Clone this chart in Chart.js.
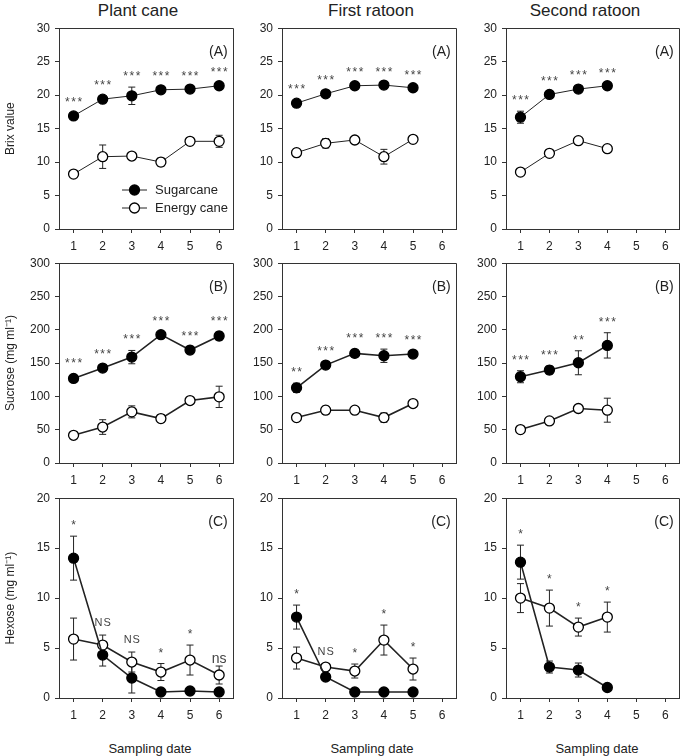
<!DOCTYPE html>
<html>
<head>
<meta charset="utf-8">
<script src="https://cdn.jsdelivr.net/npm/chart.js@4.4.0/dist/chart.umd.min.js"></script>
<style>
  body { margin: 0; background: #fff; width: 685px; height: 756px; position: relative; overflow: hidden;
         font-family: "Liberation Sans", Arial, sans-serif; color: #222; }
  canvas { position: absolute; }
  .lbl { position: absolute; transform: translate(-50%, -50%); white-space: nowrap; }
  .coltitle { font-size: 17px; }
  .xtitle { font-size: 13px; }
</style>
</head>
<body>
<div class="lbl coltitle" style="left:138px; top:11px">Plant cane</div>
<div class="lbl coltitle" style="left:371px; top:11px">First ratoon</div>
<div class="lbl coltitle" style="left:585px; top:11px">Second ratoon</div>
<div class="lbl xtitle" style="left:150px; top:748px">Sampling date</div>
<div class="lbl xtitle" style="left:372px; top:748px">Sampling date</div>
<div class="lbl xtitle" style="left:597px; top:748px">Sampling date</div>

<script>
// sampling dates
const dates = ['1', '2', '3', '4', '5', '6'];
const seriesNames = ['Sugarcane', 'Energy cane'];

// (A) Brix value
const brixSugarPlant = [16.9, 19.4, 19.9, 20.8, 20.9, 21.4];
const brixSugarPlantErr = [0.4, 0.4, 1.3, 0.4, 0.3, 0.4];
const brixEnergyPlant = [8.2, 10.8, 10.9, 10.0, 13.1, 13.1];
const brixEnergyPlantErr = [0.3, 1.75, 0.5, 0.6, 0.3, 0.9];
const brixSigPlant = ['***', '***', '***', '***', '***', '***'];

const brixSugarFirst = [18.8, 20.2, 21.4, 21.5, 21.1];
const brixSugarFirstErr = [0.4, 0.4, 0.4, 0.3, 0.3];
const brixEnergyFirst = [11.4, 12.8, 13.3, 10.8, 13.4];
const brixEnergyFirstErr = [0.6, 0.7, 0.3, 1.1, 0.3];
const brixSigFirst = ['***', '***', '***', '***', '***'];

const brixSugarSecond = [16.7, 20.1, 20.9, 21.4];
const brixSugarSecondErr = [0.9, 0.4, 0.4, 0.3];
const brixEnergySecond = [8.5, 11.3, 13.2, 12.0];
const brixEnergySecondErr = [0.3, 0.4, 0.3, 0.4];
const brixSigSecond = ['***', '***', '***', '***'];

// (B) Sucrose, mg/ml
const sucSugarPlant = [127, 142.5, 159, 192.7, 169.6, 190.7];
const sucSugarPlantErr = [6, 4, 10, 4, 4, 6];
const sucEnergyPlant = [41.6, 54, 76.8, 66.7, 93.8, 99.3];
const sucEnergyPlantErr = [3, 11, 9, 6, 3, 16];
const sucSigPlant = ['***', '***', '***', '***', '***', '***'];

const sucSugarFirst = [112.9, 147, 164.6, 161, 163.6];
const sucSugarFirstErr = [7, 5, 6, 10, 4];
const sucEnergyFirst = [68.2, 79.3, 79.3, 68.2, 89.3];
const sucEnergyFirstErr = [6, 6, 5, 7, 3];
const sucSigFirst = ['**', '***', '***', '***', '***'];

const sucSugarSecond = [129.5, 139.5, 150.5, 176.6];
const sucSugarSecondErr = [9, 6, 18, 19];
const sucEnergySecond = [50.2, 63.2, 81.8, 79.3];
const sucEnergySecondErr = [2, 5, 3, 18];
const sucSigSecond = ['***', '***', '**', '***'];

// (C) Hexose, mg/ml
const hexSugarPlant = [14.0, 4.3, 2.0, 0.6, 0.7, 0.6];
const hexSugarPlantErr = [2.2, 1.1, 1.5, 0.1, 0.1, 0.1];
const hexEnergyPlant = [5.9, 5.3, 3.6, 2.6, 3.8, 2.3];
const hexEnergyPlantErr = [2.1, 1.0, 1.0, 0.85, 1.5, 0.9];
const hexSigPlant = ['*', 'NS', 'NS', '*', '*', 'ns'];

const hexSugarFirst = [8.1, 2.1, 0.6, 0.6, 0.6];
const hexSugarFirstErr = [1.2, 0.3, 0.1, 0.1, 0.1];
const hexEnergyFirst = [4.0, 3.1, 2.7, 5.8, 2.9];
const hexEnergyFirstErr = [1.1, 0.3, 0.7, 1.5, 1.1];
const hexSigFirst = ['*', 'NS', '*', '*', '*'];

const hexSugarSecond = [13.6, 3.1, 2.8, 1.05];
const hexSugarSecondErr = [1.7, 0.6, 0.7, 0.1];
const hexEnergySecond = [10.0, 9.0, 7.1, 8.1];
const hexEnergySecondErr = [1.45, 1.8, 0.9, 1.5];
const hexSigSecond = ['*', '*', '*', '*'];

const FONT = '"Liberation Sans", Arial, sans-serif';
const INK = '#222';

// plot area of every panel, in page pixels
const colLeft = [59, 282, 506], colRight = [237, 460, 683];
const rowTop = [28, 263, 498], rowBottom = [229, 463, 698];
const YAXIS_W = 59, PAD_TOP = 12, PAD_RIGHT = 3, XAXIS_H = 30;

const sigStyle = {
  'ns': { size: 14, gap: 3, spacing: 0 },
  'NS': { size: 11, gap: 9, spacing: 1 },
  'star': { size: 12, gap: 7, spacing: 1.5 }
};

const errorBars = {
  id: 'errorBars',
  beforeDatasetsDraw(chart) {
    const ctx = chart.ctx, y = chart.scales.y;
    ctx.save();
    ctx.strokeStyle = INK;
    ctx.lineWidth = 1;
    chart.data.datasets.forEach((ds, i) => {
      chart.getDatasetMeta(i).data.forEach((pt, j) => {
        const e = ds.errors[j];
        const top = y.getPixelForValue(ds.data[j] + e);
        const bot = y.getPixelForValue(ds.data[j] - e);
        ctx.beginPath();
        ctx.moveTo(pt.x, top); ctx.lineTo(pt.x, bot);
        ctx.moveTo(pt.x - 3.5, top); ctx.lineTo(pt.x + 3.5, top);
        ctx.moveTo(pt.x - 3.5, bot); ctx.lineTo(pt.x + 3.5, bot);
        ctx.stroke();
      });
    });
    ctx.restore();
  }
};

const panelDecor = {
  id: 'panelDecor',
  afterDraw(chart, args, opts) {
    const ctx = chart.ctx, a = chart.chartArea;
    const x = chart.scales.x, y = chart.scales.y;
    ctx.save();
    // frame top + right
    ctx.strokeStyle = '#333';
    ctx.lineWidth = 1;
    ctx.beginPath();
    ctx.moveTo(Math.round(a.left) + 0.5, Math.round(a.top) + 0.5);
    ctx.lineTo(Math.round(a.right) - 0.5, Math.round(a.top) + 0.5);
    ctx.lineTo(Math.round(a.right) - 0.5, Math.round(a.bottom) + 0.5);
    ctx.stroke();

    // panel letter
    ctx.fillStyle = INK;
    ctx.font = '14px ' + FONT;
    ctx.textAlign = 'right';
    ctx.textBaseline = 'middle';
    ctx.fillText(opts.letter, a.right - 6, a.top + 24);

    // significance marks above the higher error bar
    ctx.textAlign = 'center';
    ctx.textBaseline = 'alphabetic';
    ctx.fillStyle = '#444';
    (opts.sig || []).forEach((s, j) => {
      let top = -Infinity;
      chart.data.datasets.forEach(ds => { top = Math.max(top, ds.data[j] + ds.errors[j]); });
      const st = sigStyle[s] || sigStyle.star;
      ctx.font = st.size + 'px ' + FONT;
      ctx.letterSpacing = st.spacing + 'px';
      ctx.fillText(s, x.getPixelForValue(j) + st.spacing / 2, y.getPixelForValue(top) - st.gap);
    });
    ctx.letterSpacing = '0px';

    // legend inside first panel
    if (opts.legend) {
      ctx.font = '13px ' + FONT;
      ctx.textAlign = 'left';
      ctx.textBaseline = 'middle';
      chart.data.datasets.forEach((ds, k) => {
        const ly = a.bottom - 39 + k * 18, lx = a.left + 63;
        ctx.strokeStyle = INK;
        ctx.lineWidth = 1;
        ctx.beginPath(); ctx.moveTo(lx, ly); ctx.lineTo(lx + 25, ly); ctx.stroke();
        ctx.beginPath(); ctx.arc(lx + 12.5, ly, 5, 0, Math.PI * 2);
        ctx.fillStyle = ds.pointBackgroundColor; ctx.fill();
        ctx.lineWidth = ds.pointBorderWidth; ctx.strokeStyle = ds.pointBorderColor; ctx.stroke();
        ctx.fillStyle = INK;
        ctx.fillText(ds.label, lx + 33, ly);
      });
    }
    ctx.restore();
  }
};

function series(label, values, errors, filled, lw) {
  return {
    label: label,
    data: values,
    errors: errors,
    borderColor: INK,
    borderWidth: lw,
    pointRadius: 5,
    pointHoverRadius: 5,
    pointBackgroundColor: filled ? '#000' : '#fff',
    pointBorderColor: '#000',
    pointBorderWidth: 1.3,
    tension: 0,
    fill: false
  };
}

function panel(col, row, p) {
  const cv = document.createElement('canvas');
  const w = colRight[col] - colLeft[col] + YAXIS_W + PAD_RIGHT;
  const h = rowBottom[row] - rowTop[row] + PAD_TOP + XAXIS_H;
  cv.width = w; cv.height = h;
  cv.style.left = (colLeft[col] - YAXIS_W) + 'px';
  cv.style.top = (rowTop[row] - PAD_TOP) + 'px';
  cv.style.width = w + 'px'; cv.style.height = h + 'px';
  document.body.appendChild(cv);

  const lw = row === 0 ? 1 : 1.6;
  new Chart(cv, {
    type: 'line',
    data: {
      labels: dates,
      datasets: [
        series(seriesNames[0], p.sugar, p.sugarErr, true, lw),
        series(seriesNames[1], p.energy, p.energyErr, false, lw)
      ]
    },
    options: {
      responsive: false,
      animation: false,
      devicePixelRatio: 1,
      layout: { padding: { top: PAD_TOP, right: PAD_RIGHT, left: 0, bottom: 0 } },
      plugins: {
        legend: { display: false },
        tooltip: { enabled: false },
        panelDecor: { letter: p.letter, sig: p.sig, legend: p.legend }
      },
      scales: {
        x: {
          type: 'category',
          offset: true,
          ticks: { color: INK, font: { size: 12, family: FONT }, padding: 6, maxRotation: 0, autoSkip: false },
          grid: { drawOnChartArea: false, drawTicks: true, tickLength: 4, color: '#333', offset: false },
          border: { display: true, color: '#333', width: 1 },
          afterFit: s => { s.height = XAXIS_H; }
        },
        y: {
          min: 0, max: p.yMax,
          ticks: { stepSize: p.yStep, color: INK, font: { size: 12, family: FONT }, padding: 5 },
          grid: { drawOnChartArea: false, drawTicks: true, tickLength: 4, color: '#333' },
          border: { display: true, color: '#333', width: 1 },
          title: { display: !!p.yTitle, text: p.yTitle, color: INK, font: { size: 12, family: FONT }, padding: { top: 3, bottom: 0 } },
          afterFit: s => { s.width = YAXIS_W; }
        }
      }
    },
    plugins: [errorBars, panelDecor]
  });
}

panel(0, 0, { sugar: brixSugarPlant, sugarErr: brixSugarPlantErr, energy: brixEnergyPlant, energyErr: brixEnergyPlantErr,
  sig: brixSigPlant, yMax: 30, yStep: 5, letter: '(A)', yTitle: 'Brix value', legend: true });
panel(1, 0, { sugar: brixSugarFirst, sugarErr: brixSugarFirstErr, energy: brixEnergyFirst, energyErr: brixEnergyFirstErr,
  sig: brixSigFirst, yMax: 30, yStep: 5, letter: '(A)' });
panel(2, 0, { sugar: brixSugarSecond, sugarErr: brixSugarSecondErr, energy: brixEnergySecond, energyErr: brixEnergySecondErr,
  sig: brixSigSecond, yMax: 30, yStep: 5, letter: '(A)' });

panel(0, 1, { sugar: sucSugarPlant, sugarErr: sucSugarPlantErr, energy: sucEnergyPlant, energyErr: sucEnergyPlantErr,
  sig: sucSigPlant, yMax: 300, yStep: 50, letter: '(B)', yTitle: 'Sucrose (mg ml\u207B\u00B9)' });
panel(1, 1, { sugar: sucSugarFirst, sugarErr: sucSugarFirstErr, energy: sucEnergyFirst, energyErr: sucEnergyFirstErr,
  sig: sucSigFirst, yMax: 300, yStep: 50, letter: '(B)' });
panel(2, 1, { sugar: sucSugarSecond, sugarErr: sucSugarSecondErr, energy: sucEnergySecond, energyErr: sucEnergySecondErr,
  sig: sucSigSecond, yMax: 300, yStep: 50, letter: '(B)' });

panel(0, 2, { sugar: hexSugarPlant, sugarErr: hexSugarPlantErr, energy: hexEnergyPlant, energyErr: hexEnergyPlantErr,
  sig: hexSigPlant, yMax: 20, yStep: 5, letter: '(C)', yTitle: 'Hexose (mg ml\u207B\u00B9)' });
panel(1, 2, { sugar: hexSugarFirst, sugarErr: hexSugarFirstErr, energy: hexEnergyFirst, energyErr: hexEnergyFirstErr,
  sig: hexSigFirst, yMax: 20, yStep: 5, letter: '(C)' });
panel(2, 2, { sugar: hexSugarSecond, sugarErr: hexSugarSecondErr, energy: hexEnergySecond, energyErr: hexEnergySecondErr,
  sig: hexSigSecond, yMax: 20, yStep: 5, letter: '(C)' });
</script>
</body>
</html>
